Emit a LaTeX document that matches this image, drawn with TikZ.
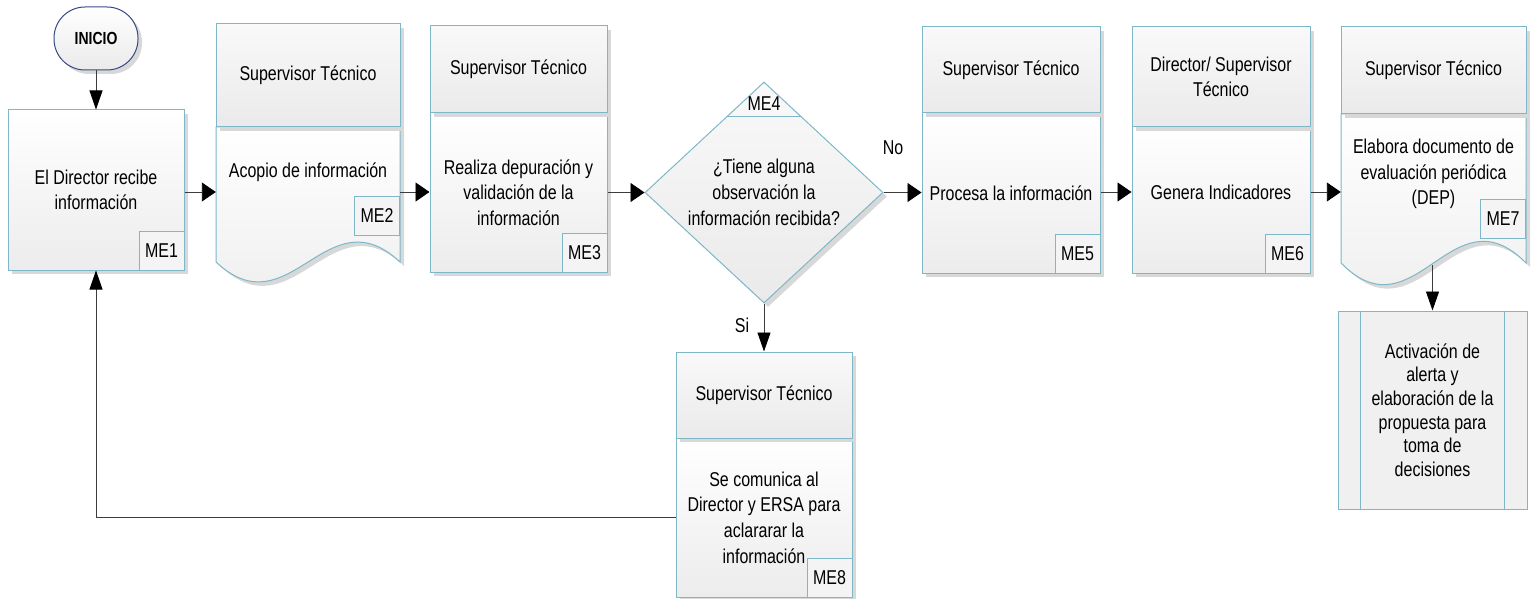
\documentclass[tikz,border=0pt]{standalone}
\usepackage{fontspec}
\setmainfont{Liberation Sans}[FakeStretch=0.8]
\usetikzlibrary{arrows.meta,shapes.geometric,shadows,calc}
\definecolor{bdr}{RGB}{125,183,200}
\definecolor{navy}{RGB}{55,75,135}
\definecolor{cline}{RGB}{60,60,60}
\definecolor{shd}{RGB}{216,216,216}
\definecolor{actfill}{RGB}{240,240,240}
\definecolor{hdtop}{RGB}{249,249,249}
\definecolor{hdbot}{RGB}{234,234,234}
\definecolor{bdtop}{RGB}{255,255,255}
\definecolor{bdbot}{RGB}{236,236,236}
\tikzset{
  txt/.style={font=\fontsize{20}{25.7}\selectfont, align=center, inner sep=0pt},
  shad/.style={drop shadow={shadow xshift=4pt, shadow yshift=-4pt, fill=shd, opacity=1}},
  hdr/.style={txt, rectangle, draw=bdr, line width=1pt, top color=hdtop, bottom color=hdbot, shad},
  bodybox/.style={txt, rectangle, draw=bdr, line width=1pt, top color=bdtop, bottom color=bdbot, shad},
  docbody/.style={draw=bdr, line width=1pt, top color=bdtop, bottom color=bdbot, shad},
  ghost/.style={rectangle, inner sep=0pt},
  lbl/.style={txt, rectangle, draw=bdr, line width=1pt, fill=bdbot!60!white, minimum width=45pt, minimum height=39pt, anchor=south east},
  harrow/.style={draw=cline, line width=0.9pt, -{Triangle[length=14pt,width=19pt,color=black,fill=black]}},
  varrow/.style={draw=cline, line width=0.9pt, -{Triangle[length=19pt,width=13pt,color=black,fill=black]}},
}
\begin{document}
\begin{tikzpicture}[x=1pt,y=-1pt]
\useasboundingbox (0,0) rectangle (1534,599);

% INICIO
\node[txt, font=\fontsize{17.5}{20}\selectfont\bfseries, draw=navy, line width=1pt, rounded corners=31pt,
  minimum width=84pt, minimum height=63pt, top color=white, bottom color=hdbot, shad] (S) at (96,38.5) {INICIO};

% ME1
\node[bodybox, minimum width=176pt, minimum height=160pt] (ME1) at (96,190) {El Director recibe\\información};
\node[lbl] (L1) at (ME1.south east) {ME1};

% ME2 (document)
\path[docbody] (216,127) -- (400,127) -- (400,262) .. controls (326.4,193) and (289.6,331) .. (216,262) -- cycle;
\node[ghost, minimum width=184pt, minimum height=130pt] (B2) at (308,192) {};
\node[hdr, minimum width=184pt, minimum height=103pt] (H2) at (308,75.5) {Supervisor Técnico};
\node[txt] (T2) at (308,172) {Acopio de información};
\node[lbl] (L2) at (400,236) {ME2};

% ME3
\node[bodybox, minimum width=177pt, minimum height=159pt] (B3) at (518.5,192.5) {Realiza depuración y\\validación de la\\información};
\node[hdr, minimum width=177pt, minimum height=87pt] (H3) at (518.5,69.5) {Supervisor Técnico};
\node[lbl] (L3) at (B3.south east) {ME3};

% ME4 decision
\node[diamond, draw=bdr, line width=1pt, inner sep=0pt, minimum width=238pt, minimum height=221pt,
  top color=hdtop, bottom color=hdbot, shad] (D4) at (764,192.5) {};
\node[txt] (T4) at (764,192.5) {¿Tiene alguna\\observación la\\información recibida?};
\draw[bdr, line width=1pt] ($(D4.north)!0.317!(D4.west)$) -- ($(D4.north)!0.317!(D4.east)$);
\node[txt] (N4) at (764,104) {ME4};

% ME5
\node[bodybox, minimum width=178pt, minimum height=160pt] (B5) at (1011,193) {Procesa la información};
\node[hdr, minimum width=178pt, minimum height=86pt] (H5) at (1011,70) {Supervisor Técnico};
\node[lbl] (L5) at (B5.south east) {ME5};

% ME6
\node[bodybox, minimum width=178pt, minimum height=146pt] (B6) at (1221,200) {};
\node[txt] (T6) at (1221,192) {Genera Indicadores};
\node[hdr, minimum width=178pt, minimum height=100pt] (H6) at (1221,77) {Director/ Supervisor\\Técnico};
\node[lbl] (L6) at (B6.south east) {ME6};

% ME7 (document)
\path[docbody] (1341,114) -- (1526,114) -- (1526,263) .. controls (1452,188) and (1415,338) .. (1341,263) -- cycle;
\node[ghost, minimum width=185pt, minimum height=140pt] (B7) at (1433.5,192) {};
\node[hdr, minimum width=185pt, minimum height=87pt] (H7) at (1433.5,70.5) {Supervisor Técnico};
\node[txt] (T7) at (1433.5,174) {Elabora documento de\\evaluación periódica\\(DEP)};
\node[lbl] (L7) at (1526,239) {ME7};
\coordinate (w7) at (1432.5,265);

% Activation (predefined process)
\node[txt, font=\fontsize{20}{23.6}\selectfont, draw=bdr, line width=1pt, fill=actfill,
  minimum width=189pt, minimum height=198pt] (A) at (1432.5,410)
  {Activación de\\alerta y\\elaboración de la\\propuesta para\\toma de\\decisiones};
\draw[bdr, line width=1pt] ($(A.north west)+(23,0)$) -- ($(A.south west)+(23,0)$);
\draw[bdr, line width=1pt] ($(A.north east)+(-23,0)$) -- ($(A.south east)+(-23,0)$);

% ME8
\node[bodybox, minimum width=176pt, minimum height=159pt] (B8) at (764,517.5) {Se comunica al\\Director y ERSA para\\aclararar la\\información};
\node[hdr, minimum width=176pt, minimum height=86pt] (H8) at (764,395) {Supervisor Técnico};
\node[lbl] (L8) at (B8.south east) {ME8};

% connectors
\coordinate (row) at (0,192);
\draw[varrow] (S.south) -- (ME1.north);
\draw[harrow] (ME1.east |- row) -- (B2.west |- row);
\draw[harrow] (B2.east |- row) -- (B3.west |- row);
\draw[harrow] (B3.east |- D4.west) -- (D4.west);
\draw[harrow] (D4.east) -- (B5.west |- D4.east);
\node[txt] (no) at (893,148) {No};
\draw[harrow] (B5.east |- row) -- (B6.west |- row);
\draw[harrow] (B6.east |- row) -- (B7.west |- row);
\draw[varrow] (w7) -- (A.north);
\draw[varrow] (D4.south) -- (H8.north);
\node[txt] (si) at (742,325) {Si};
\draw[varrow] (B8.west) -| (ME1.south);
\end{tikzpicture}
\end{document}
